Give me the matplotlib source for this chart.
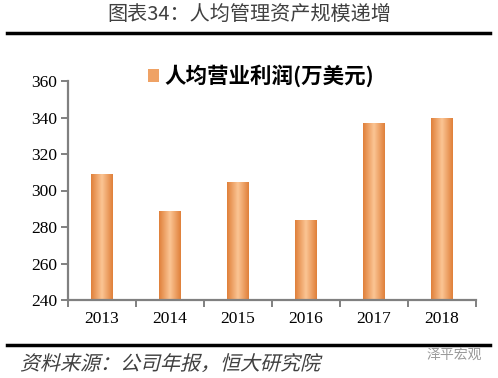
#Bar chart: per-capita operating profit (万美元), 2013-2018
import matplotlib.pyplot as plt
import numpy as np
from matplotlib.colors import LinearSegmentedColormap
from matplotlib.textpath import TextPath
from matplotlib.patches import PathPatch
from matplotlib.font_manager import FontProperties
from matplotlib.transforms import Affine2D, IdentityTransform

plt.rcParams['font.family'] = ['Noto Sans CJK SC', 'DejaVu Sans']

#Data
years = ['2013', '2014', '2015', '2016', '2017', '2018']
profit = [308.5, 288.5, 304.5, 283.5, 336.5, 339.5]
y_ticks = [240, 260, 280, 300, 320, 340, 360]

title_text = '图表34：人均管理资产规模递增'
legend_text = '人均营业利润(万美元)'
source_text = '资料来源：公司年报，恒大研究院'
mark_text = '泽平宏观'

fig = plt.figure(figsize=(4.98, 3.78), dpi=100)
fig.patch.set_facecolor('white')
ax = fig.add_axes([68/498, 78/378, 408/498, 219/378])

#Orange bars with a lighter middle
bar_cmap = LinearSegmentedColormap.from_list('bar', ['#E0803A', '#FBC594', '#E0803A'])
grad = np.linspace(0, 1, 64).reshape(1, -1)
barWidth = 0.32
x = np.arange(len(years))
for i, v in enumerate(profit):
    ax.imshow(grad, cmap=bar_cmap, aspect='auto', interpolation='bilinear',
              extent=(x[i]-barWidth/2, x[i]+barWidth/2, y_ticks[0], v), zorder=2)

ax.set_xlim(-0.5, len(years)-0.5)
ax.set_ylim(y_ticks[0], y_ticks[-1])

#Axes styling
for side in ['top', 'right']:
    ax.spines[side].set_visible(False)
for side in ['left', 'bottom']:
    ax.spines[side].set_color('#808080')
    ax.spines[side].set_linewidth(1.6)

ax.set_yticks(y_ticks)
ax.set_yticklabels([str(t) for t in y_ticks], family='Liberation Serif', fontsize=12.5)
ax.tick_params(axis='y', length=5, width=1.4, color='#808080', pad=3)

ax.set_xticks(x)
ax.set_xticklabels(years, family='Liberation Serif', fontsize=12.5)
ax.tick_params(axis='x', which='major', length=0, pad=8)
ax.set_xticks(np.arange(-0.5, len(years)), minor=True)
ax.tick_params(axis='x', which='minor', length=5, width=1.4, color='#808080', direction='out')

#Legend above the plot
fig.patches.append(plt.Rectangle((148/498, 1-82/378), 11/498, 13/378, transform=fig.transFigure,
                                 facecolor='#EFA265', edgecolor='none'))
fig.text(164/498, 1-76/378, legend_text, fontsize=15.5, fontweight='bold', va='center', ha='left')

#Header and footer
fig.text(0.5, 1-15/378, title_text, fontsize=14.5, color='#404040', ha='center', va='center',
         fontweight='light')
fig.add_artist(plt.Line2D([7/498, 490/498], [1-33/378, 1-33/378], color='black', lw=2.5,
                          transform=fig.transFigure))
fig.add_artist(plt.Line2D([7/498, 490/498], [1-345/378, 1-345/378], color='black', lw=2.5,
                          transform=fig.transFigure))

#Source line in slanted type (pixel coords)
src_path = TextPath((0, 0), source_text, size=20,
                    prop=FontProperties(family='Noto Sans CJK SC', weight='light'))
src_tr = Affine2D().skew_deg(14, 0).translate(20, 378-370) + IdentityTransform()
fig.patches.append(PathPatch(src_path, transform=src_tr, facecolor='#404040', edgecolor='none'))

fig.text(482/498, 1-355/378, mark_text, fontsize=10, color='#9A9A9A', ha='right', va='center')

fig.savefig('out.png', dpi=100)
